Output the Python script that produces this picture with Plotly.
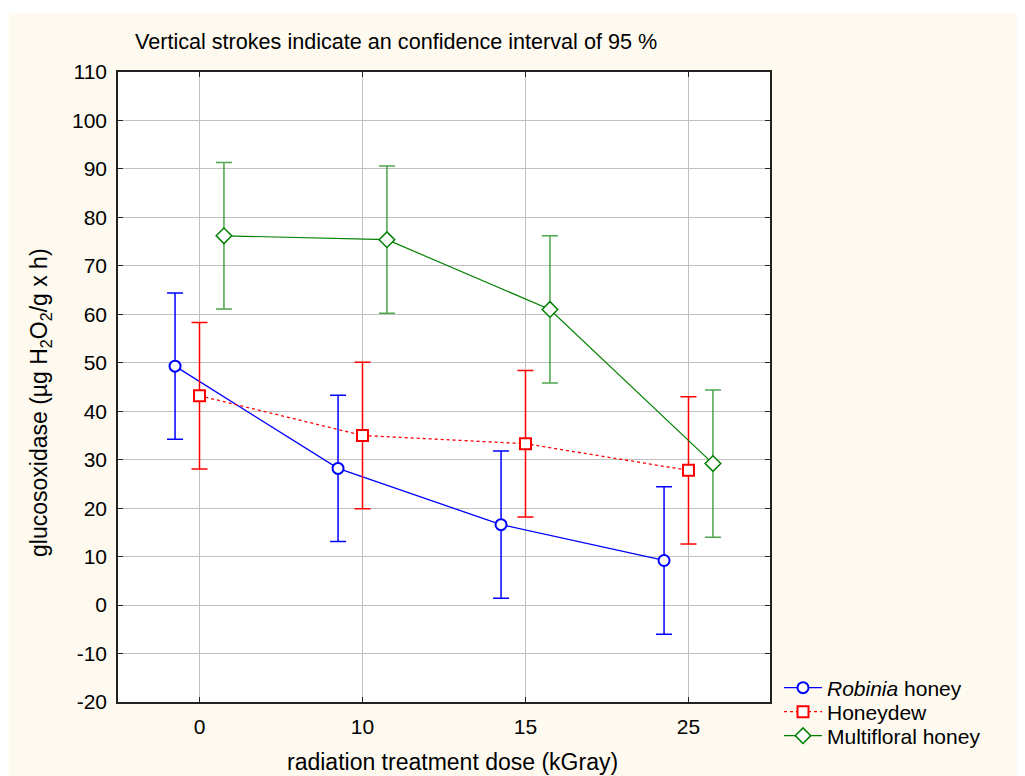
import plotly.graph_objects as go

doses = ["0", "10", "15", "25"]
robinia = [49.3, 28.2, 16.6, 9.2]
robinia_ci = [15.1, 15.1, 15.2, 15.2]
honeydew = [43.2, 35.0, 33.3, 27.8]
honeydew_ci = [15.1, 15.1, 15.1, 15.2]
multifloral = [76.2, 75.4, 61.0, 29.2]
multifloral_ci = [15.1, 15.2, 15.2, 15.2]
y_tick_values = [-20, -10, 0, 10, 20, 30, 40, 50, 60, 70, 80, 90, 100, 110]
y_tick_labels = ["-20", "-10", "0", "10", "20", "30", "40", "50", "60", "70", "80", "90", "100", "110"]

idx = list(range(len(doses)))
off = 0.15
FONT = "Liberation Sans, Arial, sans-serif"
CREAM = "#FEFAF0"

# page offset (body margin of the html page)
O = 8
W, H = 1025 - O, 776 - O
L, R, T, B = 118 - O, 770 - O, 72 - O, 702 - O
pw, ph = R - L, B - T


def px_x(p):
    """page x pixel -> paper coord"""
    return (p - O - L) / pw


def px_y(p):
    """page y pixel -> paper coord"""
    return (B - (p - O)) / ph


fig = go.Figure()
fig.add_trace(go.Scatter(
    x=[i - off for i in idx], y=robinia, name="<i>Robinia</i> honey",
    mode="lines+markers", legend="legend",
    line=dict(color="#0000FF", width=1.3),
    marker=dict(symbol="circle", size=11, color="white", line=dict(color="#0000FF", width=2)),
    error_y=dict(type="data", array=robinia_ci, color="#0000FF", thickness=1.5, width=8),
))
fig.add_trace(go.Scatter(
    x=idx, y=honeydew, name="Honeydew",
    mode="lines+markers", legend="legend2",
    line=dict(color="#FF0000", width=1.3, dash="dot"),
    marker=dict(symbol="square", size=11, color="white", line=dict(color="#FF0000", width=2)),
    error_y=dict(type="data", array=honeydew_ci, color="#FF0000", thickness=1.5, width=8),
))
fig.add_trace(go.Scatter(
    x=[i + off for i in idx], y=multifloral, name="Multifloral honey",
    mode="lines+markers", legend="legend3",
    line=dict(color="#008000", width=1.2),
    marker=dict(symbol="diamond", size=12, color="white", line=dict(color="#008000", width=1.5)),
    error_y=dict(type="data", array=multifloral_ci, color="rgba(0,128,0,0.7)", thickness=1.5, width=8),
))

axis_common = dict(
    showline=True, linecolor="#222222", linewidth=1.5, mirror="ticks",
    ticks="inside", ticklen=5, tickcolor="#222222",
    showgrid=True, gridcolor="#C0C0C0", gridwidth=1, zeroline=False,
    tickfont=dict(family=FONT, size=21, color="black"),
)

fig.update_xaxes(range=[-0.5, 3.5], tickvals=idx, ticktext=doses, ticklabelstandoff=5, **axis_common)
fig.update_yaxes(range=[-20, 110], tickvals=y_tick_values, ticktext=y_tick_labels,
                 ticklabelstandoff=5, **axis_common)


def legend_at(yc):
    return dict(
        x=px_x(779), y=px_y(yc), xanchor="left", yanchor="middle",
        bgcolor="rgba(0,0,0,0)", font=dict(family=FONT, size=21, color="black"),
        itemwidth=38, borderwidth=0,
    )


fig.update_layout(
    width=W, height=H,
    margin=dict(l=L, r=W - R, t=T, b=H - B, pad=0),
    paper_bgcolor=CREAM, plot_bgcolor="white",
    font=dict(family=FONT, color="black"),
    showlegend=True,
    legend=legend_at(688),
    legend2=legend_at(712),
    legend3=legend_at(736),
    shapes=[
        dict(type="rect", xref="paper", yref="paper", x0=px_x(0), x1=px_x(1030),
             y0=px_y(13), y1=px_y(0), fillcolor="white", line=dict(width=0), layer="above"),
        dict(type="rect", xref="paper", yref="paper", x0=px_x(0), x1=px_x(9),
             y0=px_y(780), y1=px_y(0), fillcolor="white", line=dict(width=0), layer="above"),
    ],
    annotations=[
        dict(text="Vertical strokes indicate an confidence interval of 95 %", xref="paper", yref="paper",
             x=px_x(133), y=px_y(42), xanchor="left", yanchor="middle", showarrow=False,
             font=dict(family=FONT, size=21.6, color="black")),
        dict(text="radiation treatment dose (kGray)", xref="paper", yref="paper",
             x=px_x(452), y=px_y(762), xanchor="center", yanchor="middle", showarrow=False,
             font=dict(family=FONT, size=23, color="black")),
        dict(text="glucosoxidase (\u00b5g H<sub>2</sub>O<sub>2</sub>/g x h)", xref="paper", yref="paper",
             x=px_x(40), y=px_y(403), xanchor="center", yanchor="middle", textangle=-90, showarrow=False,
             font=dict(family=FONT, size=23, color="black")),
    ],
)

fig.write_html("out.html")
